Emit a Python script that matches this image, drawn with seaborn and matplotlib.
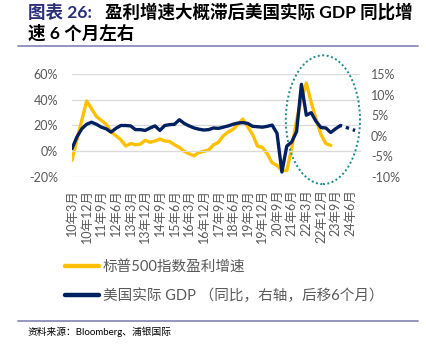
import numpy as np
import seaborn as sns
import matplotlib.pyplot as plt
from matplotlib.patches import Ellipse
from matplotlib.lines import Line2D

# 标普500指数盈利增速（%，左轴），10年3月起按季度
sp500_eps = [-7, 9, 24, 39, 33, 27, 24, 21, 15, 12,
             9, 4, 6, 5, 5.5, 8.5, 7, 8, 9.5, 8,
             7.5, 5, 3, 0, -2, -3.5, -1, 0, 1, 5,
             7, 12, 15, 17, 21, 25, 19, 13, 4, 3,
             -2, -9, -11, -15, -15, 2, 24, 40, 53, 38,
             25, 13, 6, 4.5]

# 美国实际GDP同比（%，右轴，后移6个月）
gdp_yoy = [-3.1, -0.3, 1.7, 2.8, 3.3, 2.8, 2.1, 1.7, 0.9, 1.8,
           2.5, 2.5, 2.4, 1.5, 1.5, 1.3, 1.9, 2.4, 1.3, 2.5,
           2.7, 2.8, 3.9, 3.0, 2.4, 1.9, 1.6, 1.4, 1.5, 1.9,
           1.8, 2.1, 2.4, 2.8, 3.1, 3.2, 3.0, 2.3, 2.2, 2.1,
           2.3, 2.6, 0.6, -8.8, -2.5, -1.5, 1.0, 12.5, 5.0, 5.6,
           3.5, 2.0, 1.9, 0.8, 1.7, 2.5]
# 虚线部分（预测）
gdp_fcst = [2.5, 2.1, 1.7, 1.3]

xtick_labels = ["10年3月", "10年12月", "11年9月", "12年6月", "13年3月", "13年12月",
                "14年9月", "15年6月", "16年3月", "16年12月", "17年9月", "18年6月",
                "19年3月", "19年12月", "20年9月", "21年6月", "22年3月", "22年12月",
                "23年9月", "24年6月"]

x_eps = np.arange(len(sp500_eps))
x_gdp = np.arange(len(gdp_yoy))
x_fcst = np.arange(len(gdp_yoy) - 1, len(gdp_yoy) - 1 + len(gdp_fcst))
xtick_pos = np.arange(0, 3 * len(xtick_labels), 3)

sns.set_style("white")
plt.rcParams['font.family'] = ['Lato', 'Noto Sans CJK SC', 'DejaVu Sans']

YELLOW = "#FFC000"
NAVY = "#002060"
GRAY = "#595959"
GRID = "#D9D9D9"

W, H = 427, 350
fig = plt.figure(figsize=(W / 100, H / 100), dpi=100)
ax = fig.add_axes([72 / W, 1 - 177 / H, 288 / W, 103 / H])
ax2 = ax.twinx()

sns.lineplot(x=x_eps, y=sp500_eps, ax=ax, color=YELLOW, linewidth=2.4)
sns.lineplot(x=x_gdp, y=gdp_yoy, ax=ax2, color=NAVY, linewidth=2.4)
sns.lineplot(x=x_fcst, y=gdp_fcst, ax=ax2, color=NAVY, linewidth=2.4, linestyle=(0.5, (1, 1.2)))

ax.set_xlim(0, 59)
ax.set_ylim(-20, 60)
ax2.set_ylim(-10, 15)

# 左轴
ax.set_yticks([-20, 0, 20, 40, 60])
ax.set_yticklabels([f"{v}%" for v in [-20, 0, 20, 40, 60]])
ax.grid(axis='y', color=GRID, linewidth=0.9)
ax.set_axisbelow(True)
ax.tick_params(axis='y', length=0, pad=10, labelsize=9, labelcolor=GRAY)

# 右轴
ax2.set_yticks([-10, -5, 0, 5, 10, 15])
ax2.set_yticklabels([f"{v}%" for v in [-10, -5, 0, 5, 10, 15]])
ax2.tick_params(axis='y', length=0, pad=8, labelsize=9, labelcolor=GRAY)

for a in (ax, ax2):
    for s in a.spines.values():
        s.set_visible(False)

# 横轴在0处，刻度朝下
ax.spines['bottom'].set_visible(True)
ax.spines['bottom'].set_position(('data', 0))
ax.spines['bottom'].set_color(GRID)
ax.set_xticks(xtick_pos)
ax.tick_params(axis='x', length=3.5, color=GRID, labelbottom=False)

# 标签放在底部
sec = ax.secondary_xaxis('bottom')
sec.spines['bottom'].set_visible(False)
sec.set_xticks(xtick_pos)
sec.set_xticklabels(xtick_labels, rotation=90)
sec.tick_params(length=0, pad=9, labelsize=9, labelcolor=GRAY)

ax.set_xlabel("")
ax.set_ylabel("")
ax2.set_ylabel("")

# 虚线椭圆
ax.add_patch(Ellipse((51.4, 24.5), width=15.2, height=100, fill=False,
                     edgecolor="#1A8A8A", linestyle=(0, (1, 1.3)), linewidth=1.4,
                     clip_on=False, zorder=5))

# 图例
handles = [Line2D([], [], color=YELLOW, linewidth=3.2),
           Line2D([], [], color=NAVY, linewidth=3.2)]
fig.legend(handles, ["标普500指数盈利增速", "美国实际 GDP （同比，右轴，后移6个月）"],
           loc='upper left', bbox_to_anchor=(65 / W, 1 - 260 / H), frameon=False,
           fontsize=10.5, labelcolor=GRAY, handlelength=2.3, handletextpad=0.3,
           labelspacing=1.0, borderpad=0, borderaxespad=0)

# 标题
fig.text(28 / W, 1 - 12 / H, "图表 26:", fontsize=12.6, fontweight='bold',
         color="#2B2F7A", va='center', ha='left')
fig.text(105 / W, 1 - 12 / H, "盈利增速大概滞后美国实际 GDP 同比增", fontsize=12.6,
         fontweight='bold', color="black", va='center', ha='left')
fig.text(28 / W, 1 - 33 / H, "速 6 个月左右", fontsize=12.6, fontweight='bold',
         color="black", va='center', ha='left')

fig.add_artist(Line2D([18 / W, 418 / W], [1 - 46 / H] * 2, color="#8C8CBA", linewidth=1.3))
fig.add_artist(Line2D([18 / W, 418 / W], [1 - 321 / H] * 2, color="#8C8CBA", linewidth=1.3))
fig.text(28 / W, 1 - 332 / H, "资料来源：Bloomberg、浦银国际", fontsize=7,
         color="black", va='center', ha='left')

fig.savefig("out.png", dpi=100)
